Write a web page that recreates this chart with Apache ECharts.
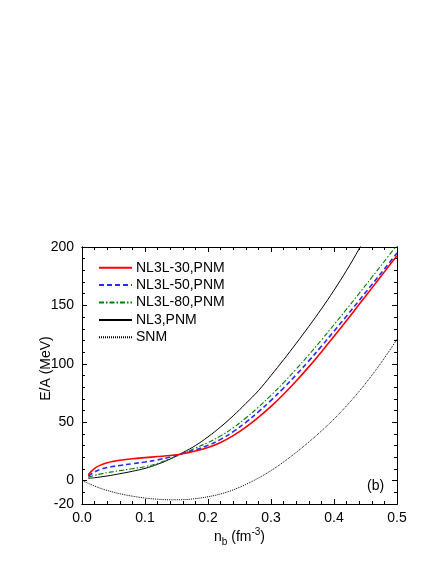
<!DOCTYPE html>
<html>
<head>
<meta charset="utf-8">
<script src="https://cdn.jsdelivr.net/npm/echarts@6/dist/echarts.min.js"></script>
<style>
html,body{margin:0;padding:0;background:#fff;}
#chart{width:436px;height:564px;}
</style>
</head>
<body>
<div id="chart"></div>
<script>
// ---- data ----
const seriesNames = ['NL3L-30,PNM', 'NL3L-50,PNM', 'NL3L-80,PNM', 'NL3,PNM', 'SNM'];
const nbPNM = [0.01, 0.02, 0.03, 0.04, 0.05, 0.06, 0.08, 0.10, 0.12, 0.14, 0.16, 0.18, 0.20, 0.22, 0.24, 0.26, 0.28, 0.30, 0.32, 0.34, 0.36, 0.38, 0.40, 0.42, 0.44, 0.46, 0.48, 0.50];
const eNL3L30 = [5.0, 10.5, 13.5, 15.3, 16.5, 17.4, 18.7, 19.7, 20.6, 21.5, 23.0, 25.3, 28.4, 32.7, 38.5, 45.8, 54.2, 63.6, 74.0, 85.3, 97.4, 110.2, 123.5, 137.1, 150.9, 164.8, 178.7, 192.6];
const eNL3L50 = [3.8, 7.5, 9.8, 11.2, 12.2, 13.0, 14.5, 16.0, 17.8, 20.3, 23.4, 26.3, 30.2, 35.3, 41.9, 49.9, 58.9, 68.7, 79.3, 90.6, 102.5, 115.0, 127.9, 141.0, 154.3, 167.7, 181.2, 194.8];
const eNL3L80 = [3.0, 4.5, 5.8, 6.8, 7.7, 8.6, 10.2, 12.0, 14.8, 18.8, 23.2, 27.9, 32.6, 38.3, 45.3, 53.6, 62.9, 73.0, 83.9, 95.5, 107.7, 120.4, 133.5, 146.8, 160.3, 174.0, 187.8, 201.6];
const eNL3 = [2.0, 2.5, 3.2, 4.0, 4.9, 5.9, 8.0, 10.5, 14.0, 18.5, 24.0, 30.0, 37.5, 46.0, 55.5, 66.0, 77.0, 90.0, 103.5, 117.5, 132.0, 147.0, 163.0, 180.0, 198.5, 218.0, 238.5, 260.0];
const nbSNM = [0.00, 0.01, 0.02, 0.03, 0.04, 0.06, 0.08, 0.10, 0.12, 0.14, 0.16, 0.18, 0.20, 0.22, 0.24, 0.26, 0.28, 0.30, 0.32, 0.34, 0.36, 0.38, 0.40, 0.42, 0.44, 0.46, 0.48, 0.50];
const eSNM = [0.0, -2.3, -4.6, -6.7, -8.4, -11.2, -13.3, -14.9, -15.9, -16.4, -16.3, -15.4, -13.8, -11.4, -7.9, -3.3, 2.2, 8.6, 16.0, 24.2, 33.0, 42.5, 52.8, 64.1, 76.5, 90.1, 104.9, 121.0];
const xMajorTicks = [0.0, 0.1, 0.2, 0.3, 0.4, 0.5];
const xMinorTicks = [0.02, 0.04, 0.06, 0.08, 0.12, 0.14, 0.16, 0.18, 0.22, 0.24, 0.26, 0.28, 0.32, 0.34, 0.36, 0.38, 0.42, 0.44, 0.46, 0.48];
const yMajorTicks = [-20, 0, 50, 100, 150, 200];
const yMinorTicks = [-10, 10, 20, 30, 40, 60, 70, 80, 90, 110, 120, 130, 140, 160, 170, 180, 190];

// ---- chart ----
const chart = echarts.init(document.getElementById('chart'), null, {renderer: 'canvas'});
const FONT = '"Liberation Sans", Arial, sans-serif';
const FS = 14;
const xMin = 0, xMax = 0.5, yMin = -20, yMax = 200;

function xAx(pos, ticks, len, labels, extra) {
  return Object.assign({
    type: 'value', position: pos, min: xMin, max: xMax,
    axisLine: {show: true, onZero: false, lineStyle: {color: '#000', width: 1}},
    axisTick: {show: true, inside: true, length: len, customValues: ticks, lineStyle: {color: '#000', width: 1}},
    axisLabel: labels ? {show: true, customValues: xMajorTicks, formatter: v => v.toFixed(1), color: '#000', fontSize: FS, fontFamily: FONT, margin: 7} : {show: false},
    splitLine: {show: false}
  }, extra || {});
}
function yAx(pos, ticks, len, labels, extra) {
  return Object.assign({
    type: 'value', position: pos, min: yMin, max: yMax,
    axisLine: {show: true, onZero: false, lineStyle: {color: '#000', width: 1}},
    axisTick: {show: true, inside: true, length: len, customValues: ticks, lineStyle: {color: '#000', width: 1}},
    axisLabel: labels ? {show: true, customValues: yMajorTicks, formatter: v => String(v), color: '#000', fontSize: FS, fontFamily: FONT, margin: 8} : {show: false},
    splitLine: {show: false}
  }, extra || {});
}

const pair = (xs, ys) => xs.map((x, i) => [x, ys[i]]);

const option = {
  animation: false,
  backgroundColor: '#fff',
  grid: {left: 82, right: 39, top: 247, bottom: 60, containLabel: false},
  xAxis: [
    xAx('bottom', xMajorTicks, 5, true, {
      name: '{a|n}{sub|b}{a| (fm}{sup|-3}{a|)}',
      nameLocation: 'middle', nameGap: 23, nameMoveOverlap: false,
      nameTextStyle: {
        color: '#000', fontFamily: FONT, fontSize: FS,
        rich: {
          a: {fontSize: FS, fontFamily: FONT, color: '#000', lineHeight: 20},
          sub: {fontSize: 10, fontFamily: FONT, color: '#000', lineHeight: 11, verticalAlign: 'bottom'},
          sup: {fontSize: 10, fontFamily: FONT, color: '#000', lineHeight: 9, verticalAlign: 'top'}
        }
      }
    }),
    xAx('bottom', xMinorTicks, 3, false),
    xAx('top', xMajorTicks, 5, false),
    xAx('top', xMinorTicks, 3, false)
  ],
  yAxis: [
    yAx('left', yMajorTicks, 5, true, {
      name: 'E/A (MeV)', nameLocation: 'middle', nameGap: 29, nameMoveOverlap: false,
      nameTextStyle: {color: '#000', fontFamily: FONT, fontSize: FS, padding: [0, 0, 0, 14]}
    }),
    yAx('left', yMinorTicks, 3, false),
    yAx('right', yMajorTicks, 5, false),
    yAx('right', yMinorTicks, 3, false)
  ],
  legend: {
    orient: 'vertical', left: 98, top: 260.7, padding: 0,
    itemWidth: 33, itemHeight: 14, itemGap: 3.4,
    data: seriesNames,
    itemStyle: {opacity: 0},
    textStyle: {color: '#000', fontSize: FS, fontFamily: FONT, lineHeight: 14, padding: [0, 0, 0, -1]}
  },
  graphic: [{
    type: 'text', left: 367, top: 479,
    style: {text: '(b)', fontSize: FS, fontFamily: FONT, fill: '#000'}
  }],
  series: [
    {name: seriesNames[0], type: 'line', data: pair(nbPNM, eNL3L30), smooth: 0.4, symbol: 'none', clip: true,
     lineStyle: {color: '#ff0000', width: 1.6, type: 'solid'}, itemStyle: {color: '#ff0000'}, z: 5},
    {name: seriesNames[1], type: 'line', data: pair(nbPNM, eNL3L50), smooth: 0.4, symbol: 'none', clip: true,
     lineStyle: {color: '#2a2aff', width: 1.6, type: [5, 3]}, itemStyle: {color: '#2a2aff'}, z: 4},
    {name: seriesNames[2], type: 'line', data: pair(nbPNM, eNL3L80), smooth: 0.4, symbol: 'none', clip: true,
     lineStyle: {color: '#008000', width: 1.1, type: [5, 2, 1.5, 2]}, itemStyle: {color: '#008000'}, z: 3},
    {name: seriesNames[3], type: 'line', data: pair(nbPNM, eNL3), smooth: 0.4, symbol: 'none', clip: true,
     lineStyle: {color: '#000000', width: 1, type: 'solid'}, itemStyle: {color: '#000000'}, z: 2},
    {name: seriesNames[4], type: 'line', data: pair(nbSNM, eSNM), smooth: 0.4, symbol: 'none', clip: true,
     lineStyle: {color: '#000000', width: 1, type: [1, 1]}, itemStyle: {color: '#000000'}, z: 1}
  ]
};
chart.setOption(option);
</script>
</body>
</html>
